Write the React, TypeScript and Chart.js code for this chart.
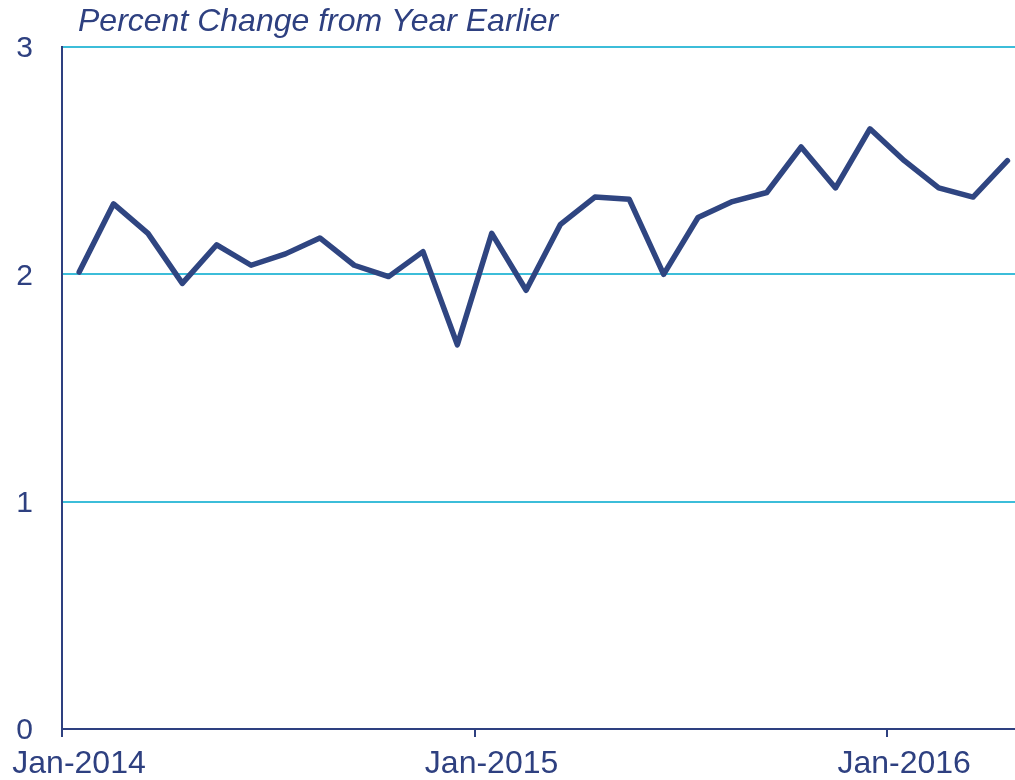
import React, { useEffect, useRef } from "react";
import { Chart, registerables } from "chart.js";

Chart.register(...registerables);

const months: string[] = [
  "Jan-2014","Feb-2014","Mar-2014","Apr-2014","May-2014","Jun-2014","Jul-2014","Aug-2014","Sep-2014","Oct-2014","Nov-2014","Dec-2014",
  "Jan-2015","Feb-2015","Mar-2015","Apr-2015","May-2015","Jun-2015","Jul-2015","Aug-2015","Sep-2015","Oct-2015","Nov-2015","Dec-2015",
  "Jan-2016","Feb-2016","Mar-2016","Apr-2016",
];
const values: number[] = [
  2.01, 2.31, 2.18, 1.96, 2.13, 2.04, 2.09, 2.16, 2.04, 1.99, 2.10, 1.69,
  2.18, 1.93, 2.22, 2.34, 2.33, 2.00, 2.25, 2.32, 2.36, 2.56, 2.38, 2.64,
  2.50, 2.38, 2.34, 2.50,
];
const xTickPositions: number[] = [0, 12, 24];
const xTickLabels: string[] = ["Jan-2014", "Jan-2015", "Jan-2016"];
const yTicks: number[] = [0, 1, 2, 3];
const title = "Percent Change from Year Earlier";

const NAVY = "#2E4080";
const LINE = "#2F4581";
const GRID = "#3CBDD9";
const FONT = '"Liberation Sans", Arial, sans-serif';

export default function App() {
  const ref = useRef<HTMLCanvasElement | null>(null);
  useEffect(() => {
    document.body.style.margin = "0";
    const canvas = ref.current!;
    const titlePlugin = {
      id: "titleText",
      afterDraw(chart: any) {
        const ctx = chart.ctx;
        ctx.save();
        ctx.font = `italic 32px ${FONT}`;
        ctx.fillStyle = NAVY;
        ctx.textBaseline = "alphabetic";
        ctx.textAlign = "left";
        ctx.fillText(title, 78, 31);
        ctx.restore();
      },
    };
    const chart = new Chart(canvas, {
      type: "line",
      data: {
        datasets: [
          {
            data: values.map((v, i) => ({ x: i + 0.5, y: v })),
            borderColor: LINE,
            borderWidth: 5.5,
            pointRadius: 0,
            tension: 0,
            borderJoinStyle: "round",
            borderCapStyle: "round",
            fill: false,
          },
        ],
      },
      options: {
        animation: false,
        responsive: false,
        maintainAspectRatio: false,
        layout: { padding: { top: 47, right: 0, left: 0, bottom: 0 } },
        plugins: { legend: { display: false }, tooltip: { enabled: false }, title: { display: false } },
        scales: {
          x: {
            type: "linear",
            min: 0,
            max: 27.72,
            afterBuildTicks: (s: any) => {
              s.ticks = xTickPositions.map((v) => ({ value: v }));
            },
            afterFit: (s: any) => {
              s.height = 51;
              s.paddingLeft = 0;
              s.paddingRight = 0;
            },
            ticks: {
              autoSkip: false,
              maxRotation: 0,
              padding: 8,
              labelOffset: 17,
              color: NAVY,
              font: { family: FONT, size: 32 },
              callback: (v: any) => {
                const i = xTickPositions.indexOf(Number(v));
                return i >= 0 ? xTickLabels[i] : "";
              },
            },
            grid: { drawOnChartArea: false, drawTicks: true, tickLength: 8, color: NAVY, lineWidth: 2 },
            border: { display: true, color: NAVY, width: 2 },
          },
          y: {
            min: 0,
            max: 3,
            afterBuildTicks: (s: any) => {
              s.ticks = yTicks.map((v) => ({ value: v }));
            },
            afterFit: (s: any) => {
              s.width = 62;
            },
            ticks: {
              padding: 29,
              labelOffset: 2,
              color: NAVY,
              font: { family: FONT, size: 30 },
              callback: (v: any) => String(v),
            },
            grid: {
              drawTicks: false,
              color: (c: any) => (c.tick && c.tick.value === 0 ? "rgba(0,0,0,0)" : GRID),
              lineWidth: 2,
            },
            border: { display: true, color: NAVY, width: 2 },
          },
        },
      },
      plugins: [titlePlugin],
    } as any);
    return () => chart.destroy();
  }, []);
  return (
    <div style={{ position: "absolute", left: 0, top: 0, width: 1015, height: 780 }}>
      <canvas ref={ref} width={1015} height={780} style={{ width: 1015, height: 780 }} />
    </div>
  );
}
